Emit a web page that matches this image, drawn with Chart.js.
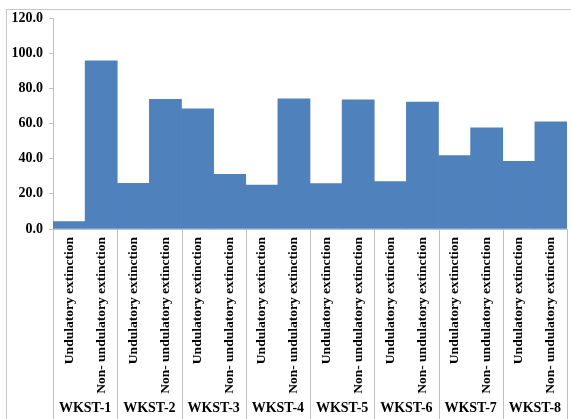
<!DOCTYPE html>
<html>
<head>
<meta charset="utf-8">
<script src="https://cdn.jsdelivr.net/npm/chart.js@4.4.0/dist/chart.umd.min.js"></script>
<style>
  body { margin: 0; background: #fff; }
  #wrap { position: relative; width: 571px; height: 419px; }
  #frame { position: absolute; left: 6px; top: 9px; right: -2px; bottom: -2px;
           border-left: 1px solid #c8c8c8; border-top: 1px solid #c8c8c8; pointer-events: none; }
</style>
</head>
<body>
<div id="wrap">
  <canvas id="grafica" width="571" height="419"></canvas>
  <div id="frame"></div>
</div>
<script>
// sample groups and extinction types
var grupos = ['WKST-1', 'WKST-2', 'WKST-3', 'WKST-4', 'WKST-5', 'WKST-6', 'WKST-7', 'WKST-8'];
var tipos = ['Undulatory extinction', 'Non- undulatory extinction'];
// percentage per bar, in order group by group
var valores = [4.2, 95.6, 26.0, 73.8, 68.3, 31.1, 25.0, 74.1, 25.8, 73.4, 26.9, 72.2, 41.7, 57.6, 38.5, 60.9];
var yTicks = [0, 20, 40, 60, 80, 100, 120];

var etiquetas = [];
for (var i = 0; i < grupos.length; i++) {
  for (var j = 0; j < tipos.length; j++) {
    etiquetas.push(tipos[j]);
  }
}

var gris = '#c0c0c0';
var fuente = 'Liberation Serif';

// vertical separators between groups, down through the label area
var separadores = {
  id: 'separadores',
  afterDraw: function (chart) {
    var xs = chart.scales.x;
    var ctx = chart.ctx;
    var paso = (xs.right - xs.left) / grupos.length;
    ctx.save();
    ctx.strokeStyle = gris;
    ctx.lineWidth = 1;
    for (var k = 0; k <= grupos.length; k++) {
      var px = Math.round(xs.left + k * paso) + 0.5;
      ctx.beginPath();
      ctx.moveTo(px, xs.top);
      ctx.lineTo(px, chart.height);
      ctx.stroke();
    }
    ctx.restore();
  }
};

function sinMargen(alto) {
  return function (s) {
    s.height = alto;
    s.paddingLeft = 0;
    s.paddingRight = 0;
  };
}

var ctx = document.getElementById('grafica').getContext('2d');
new Chart(ctx, {
  type: 'bar',
  data: {
    labels: etiquetas,
    datasets: [{
      data: valores,
      backgroundColor: '#4f81bd',
      borderWidth: 0,
      barPercentage: 1,
      categoryPercentage: 1,
      xAxisID: 'x'
    }]
  },
  options: {
    responsive: false,
    animation: false,
    events: [],
    layout: { padding: { top: 18, right: 4, left: 0, bottom: 0 } },
    plugins: {
      legend: { display: false },
      tooltip: { enabled: false }
    },
    scales: {
      y: {
        min: 0,
        max: 120,
        afterBuildTicks: function (s) { s.ticks = yTicks.map(function (v) { return { value: v }; }); },
        afterFit: function (s) { s.width = 53; },
        border: { display: true, color: gris },
        grid: { drawOnChartArea: false, drawTicks: true, tickLength: 4, color: gris },
        ticks: {
          color: '#000',
          padding: 6,
          font: { family: fuente, size: 14, weight: 'bold' },
          callback: function (v) { return Number(v).toFixed(1); }
        }
      },
      x: {
        position: 'bottom',
        afterFit: sinMargen(166),
        border: { display: true, color: gris },
        grid: { display: false, drawTicks: false },
        ticks: {
          autoSkip: false,
          minRotation: 90,
          maxRotation: 90,
          padding: 8,
          color: '#000',
          font: { family: fuente, size: 13.5, weight: 'bold' }
        }
      },
      grupo: {
        type: 'category',
        labels: grupos,
        position: 'bottom',
        afterFit: sinMargen(24),
        border: { display: false },
        grid: { display: false, drawTicks: false },
        ticks: {
          autoSkip: false,
          maxRotation: 0,
          padding: 5,
          color: '#000',
          font: { family: fuente, size: 14, weight: 'bold' }
        }
      }
    }
  },
  plugins: [separadores]
});
</script>
</body>
</html>
